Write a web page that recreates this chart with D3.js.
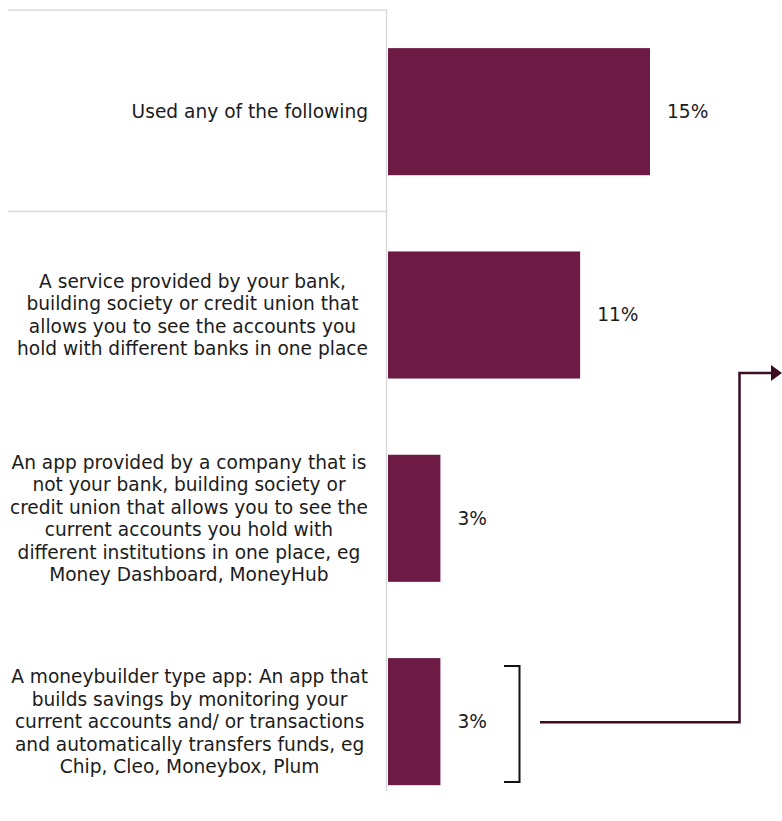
<!DOCTYPE html>
<html>
<head>
<meta charset="utf-8">
<script src="https://cdn.jsdelivr.net/npm/d3@7"></script>
<style>
  html, body { margin: 0; padding: 0; background: #ffffff; }
  svg { display: block; }
  text { font-family: Verdana, "DejaVu Sans", sans-serif; fill: #1c1c1c; }
</style>
</head>
<body>
<svg id="chart" width="782" height="821"></svg>
<script>
// Survey categories (each entry's lines as they wrap on the left)
const categories = [
  ["Used any of the following"],
  ["A service provided by your bank,",
   "building society or credit union that",
   "allows you to see the accounts you",
   "hold with different banks in one place"],
  ["An app provided by a company that is",
   "not your bank, building society or",
   "credit union that allows you to see the",
   "current accounts you hold with",
   "different institutions in one place, eg",
   "Money Dashboard, MoneyHub"],
  ["A moneybuilder type app: An app that",
   "builds savings by monitoring your",
   "current accounts and/ or transactions",
   "and automatically transfers funds, eg",
   "Chip, Cleo, Moneybox, Plum"]
];
// Share of respondents (%)
const values = [15, 11, 3, 3];
const valueLabels = ["15%", "11%", "3%", "3%"];

const svg = d3.select("#chart");
const barColor = "#6d1b45";
const gridColor = "#d9d9d9";
const arrowColor = "#3b0c24";
const fontSize = 18.6;

const ids = d3.range(categories.length);
const y = d3.scaleBand().domain(ids).range([10, 823.3]).paddingInner(0.375).paddingOuter(0.1875);
const x = d3.scaleLinear().domain([0, 15]).range([388, 650]);

// frame lines: top rule, separator under the summary row, category axis
svg.append("line").attr("x1", 8).attr("x2", 386.5).attr("y1", 10).attr("y2", 10)
  .attr("stroke", gridColor).attr("stroke-width", 1.5);
svg.append("line").attr("x1", 8).attr("x2", 386.5).attr("y1", 211.5).attr("y2", 211.5)
  .attr("stroke", gridColor).attr("stroke-width", 1.5);
svg.append("line").attr("x1", 386.5).attr("x2", 386.5).attr("y1", 9.25).attr("y2", 791)
  .attr("stroke", gridColor).attr("stroke-width", 1.5);

// bars
svg.append("g").selectAll("rect").data(ids).join("rect")
  .attr("x", x(0))
  .attr("y", i => y(i))
  .attr("width", i => x(values[i]) - x(0))
  .attr("height", y.bandwidth())
  .attr("fill", barColor);

// value labels
svg.append("g").selectAll("text").data(ids).join("text")
  .attr("x", i => x(values[i]) + 17)
  .attr("y", i => y(i) + y.bandwidth() / 2)
  .attr("dy", "0.35em")
  .attr("font-size", fontSize)
  .text(i => valueLabels[i]);

// category labels: each block is centred on itself, its widest line ending at the axis gap
const lineH = 22.5;
const labelRight = 368;
const cat = svg.append("g").selectAll("text").data(ids).join("text")
  .attr("text-anchor", "middle")
  .attr("font-size", fontSize)
  .attr("y", i => y(i) + y.bandwidth() / 2 - (categories[i].length - 1) * lineH / 2);
cat.each(function(i) {
  const t = d3.select(this);
  const spans = categories[i].map((ln, k) =>
    t.append("tspan").attr("dy", k === 0 ? "0.35em" : lineH).text(ln));
  const widest = d3.max(spans, s => s.node().getComputedTextLength());
  spans.forEach(s => s.attr("x", labelRight - widest / 2));
});

// bracket around the moneybuilder row
const b4 = y(3);
svg.append("path")
  .attr("d", `M504,${b4 + 8}H519.5V${b4 + 124}H504`)
  .attr("fill", "none").attr("stroke", "#111").attr("stroke-width", 2);

// elbow arrow leading off to the right
const ay = b4 + y.bandwidth() / 2 + 0.5;
svg.append("path")
  .attr("d", `M540,${ay}H739.5V373H772`)
  .attr("fill", "none").attr("stroke", arrowColor).attr("stroke-width", 2.5);
svg.append("path")
  .attr("d", "M771,365L782,373L771,381Z")
  .attr("fill", arrowColor);
</script>
</body>
</html>
